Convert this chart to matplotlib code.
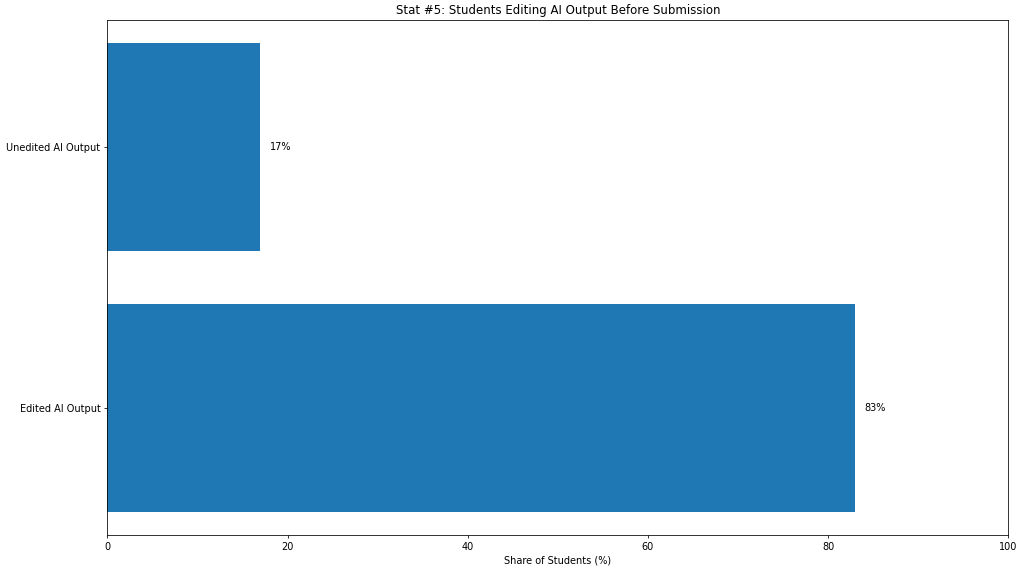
import matplotlib
matplotlib.use('Agg')
import matplotlib.pyplot as plt

categories = ['Edited AI Output', 'Unedited AI Output']
shares = [83, 17]
value_labels = ['83%', '17%']

DPI = 1024 / 14.5
fig, ax = plt.subplots(figsize=(14.5, 572 / DPI), dpi=DPI)
fig.subplots_adjust(left=0.1048, right=0.9847, top=0.965, bottom=0.0647)

bars = ax.barh(categories, shares, color='#1f77b4')
for b, lab in zip(bars, value_labels):
    ax.text(b.get_width() + 1, b.get_y() + b.get_height() / 2, lab,
            va='center', ha='left')

ax.set_xlim(0, 100)
ax.set_xlabel('Share of Students (%)')
ax.set_title('Stat #5: Students Editing AI Output Before Submission', fontsize=12)

fig.savefig('out.png', dpi=DPI)
